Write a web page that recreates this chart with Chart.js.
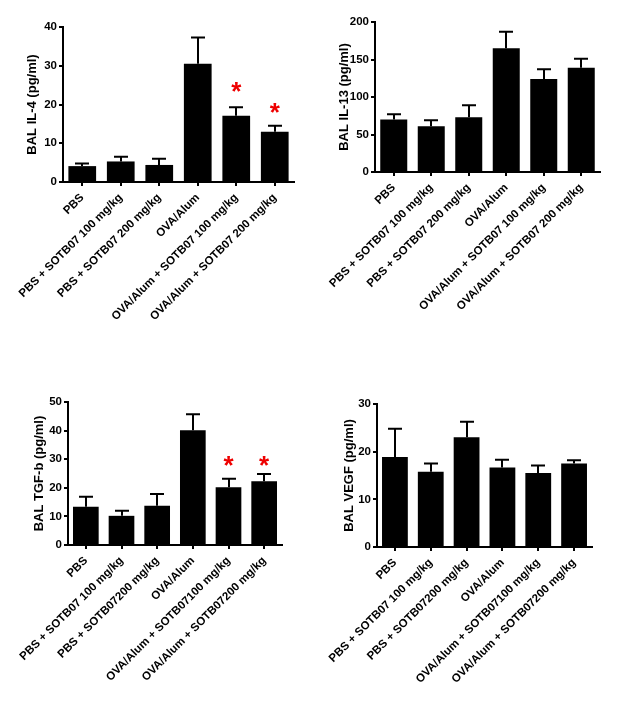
<!DOCTYPE html>
<html>
<head>
<meta charset="utf-8">
<script src="https://cdn.jsdelivr.net/npm/chart.js@4/dist/chart.umd.min.js"></script>
<style>
  html, body { margin: 0; padding: 0; background: #ffffff; }
  #wrap { position: relative; width: 634px; height: 707px; background: #ffffff; overflow: hidden; }
  canvas { position: absolute; }
</style>
</head>
<body>
<div id="wrap">
  <canvas id="c1" width="300" height="340" style="left:0px;top:0px"></canvas>
  <canvas id="c2" width="290" height="330" style="left:317px;top:0px"></canvas>
  <canvas id="c3" width="290" height="330" style="left:0px;top:370px"></canvas>
  <canvas id="c4" width="282" height="330" style="left:317px;top:370px"></canvas>
</div>
<script>
// ---- data ----
const categoriesA = ["PBS", "PBS + SOTB07 100 mg/kg", "PBS + SOTB07 200 mg/kg", "OVA/Alum", "OVA/Alum + SOTB07 100 mg/kg", "OVA/Alum + SOTB07 200 mg/kg"];
const categoriesB = ["PBS", "PBS + SOTB07 100 mg/kg", "PBS + SOTB07200 mg/kg", "OVA/Alum", "OVA/Alum + SOTB07100 mg/kg", "OVA/Alum + SOTB07200 mg/kg"];

const il4Mean  = [4.1, 5.3, 4.4, 30.5, 17.1, 13.0];
const il4Sem   = [0.7, 1.2, 1.6, 6.8, 2.2, 1.5];
const il4Star  = [null, null, null, null, 25, 19.5];
const il4Ticks = [0, 10, 20, 30, 40];

const il13Mean  = [70, 61, 73, 165, 124, 139];
const il13Sem   = [7, 8, 16, 22, 13, 12];
const il13Ticks = [0, 50, 100, 150, 200];

const tgfMean  = [13.4, 10.2, 13.7, 40.1, 20.2, 22.3];
const tgfSem   = [3.5, 1.8, 4.1, 5.6, 3.0, 2.5];
const tgfStar  = [null, null, null, null, 30, 30];
const tgfTicks = [0, 10, 20, 30, 40, 50];

const vegfMean  = [18.9, 15.8, 23.0, 16.7, 15.5, 17.5];
const vegfSem   = [5.9, 1.7, 3.3, 1.6, 1.6, 0.7];
const vegfTicks = [0, 10, 20, 30];

// ---- drawing ----
const FONT = "'Liberation Sans', Arial, sans-serif";

const errorStarPlugin = {
  id: 'errorStar',
  afterDatasetsDraw(chart, args, opts) {
    const ctx = chart.ctx;
    const meta = chart.getDatasetMeta(0);
    const ys = chart.scales.y;
    ctx.save();
    ctx.strokeStyle = '#000';
    ctx.lineWidth = 2;
    ctx.lineCap = 'butt';
    meta.data.forEach((el, i) => {
      const top = ys.getPixelForValue(opts.mean[i] + opts.sem[i]);
      const x = Math.round(el.x);
      ctx.beginPath();
      ctx.moveTo(x, el.y);
      ctx.lineTo(x, top);
      ctx.moveTo(x - 7, top);
      ctx.lineTo(x + 7, top);
      ctx.stroke();
    });
    if (opts.stars) {
      ctx.fillStyle = '#ee0000';
      ctx.font = 'bold 26px ' + FONT;
      ctx.textAlign = 'center';
      ctx.textBaseline = 'alphabetic';
      meta.data.forEach((el, i) => {
        const v = opts.stars[i];
        if (v === null || v === undefined) return;
        const cy = ys.getPixelForValue(v);
        ctx.fillText('*', el.x, cy + 15);
      });
    }
    ctx.restore();
  }
};

function makeChart(id, cfg) {
  const tickList = cfg.ticks;
  new Chart(document.getElementById(id), {
    type: 'bar',
    data: {
      labels: cfg.labels,
      datasets: [{
        data: cfg.mean,
        backgroundColor: '#000000',
        borderWidth: 0,
        categoryPercentage: 1,
        barPercentage: 0.72
      }]
    },
    plugins: [errorStarPlugin],
    options: {
      responsive: false,
      animation: false,
      devicePixelRatio: 1,
      layout: { padding: { top: cfg.padTop, right: cfg.padRight, left: 0, bottom: 0 } },
      plugins: {
        legend: { display: false },
        tooltip: { enabled: false },
        errorStar: { mean: cfg.mean, sem: cfg.sem, stars: cfg.stars }
      },
      scales: {
        x: {
          offset: true,
          grid: { display: true, drawOnChartArea: false, drawTicks: true, tickLength: 4, color: '#000', lineWidth: 2, offset: false },
          border: { display: true, color: '#000', width: 2 },
          ticks: {
            color: '#000',
            font: { family: FONT, size: 11.5, weight: 'bold' },
            maxRotation: 45, minRotation: 45, autoSkip: false, padding: 5
          },
          afterFit(scale) { scale.height = cfg.xh; }
        },
        y: {
          min: tickList[0],
          max: tickList[tickList.length - 1],
          afterBuildTicks(scale) { scale.ticks = tickList.map(v => ({ value: v })); },
          grid: { display: true, drawOnChartArea: false, drawTicks: true, tickLength: 4, color: '#000', lineWidth: 2 },
          border: { display: true, color: '#000', width: 2 },
          ticks: {
            color: '#000',
            font: { family: FONT, size: 11.5, weight: 'bold' },
            padding: 2
          },
          title: {
            display: true,
            text: cfg.title,
            color: '#000',
            font: { family: FONT, size: 13, weight: 'bold' },
            padding: { top: cfg.titlePad, bottom: 0 }
          },
          afterFit(scale) { scale.width = cfg.yw; }
        }
      }
    }
  });
}

makeChart('c1', { labels: categoriesA, mean: il4Mean, sem: il4Sem, stars: il4Star, ticks: il4Ticks,
  title: 'BAL IL-4 (pg/ml)', padTop: 27, padRight: 6, xh: 158, yw: 63, titlePad: 25 });
makeChart('c2', { labels: categoriesA, mean: il13Mean, sem: il13Sem, stars: null, ticks: il13Ticks,
  title: 'BAL IL-13 (pg/ml)', padTop: 22, padRight: 7, xh: 158, yw: 58, titlePad: 20 });
makeChart('c3', { labels: categoriesB, mean: tgfMean, sem: tgfSem, stars: tgfStar, ticks: tgfTicks,
  title: 'BAL TGF-b (pg/ml)', padTop: 32, padRight: 8, xh: 155, yw: 68, titlePad: 32 });
makeChart('c4', { labels: categoriesB, mean: vegfMean, sem: vegfSem, stars: null, ticks: vegfTicks,
  title: 'BAL VEGF (pg/ml)', padTop: 34, padRight: 7, xh: 153, yw: 60, titlePad: 25 });
</script>
</body>
</html>
